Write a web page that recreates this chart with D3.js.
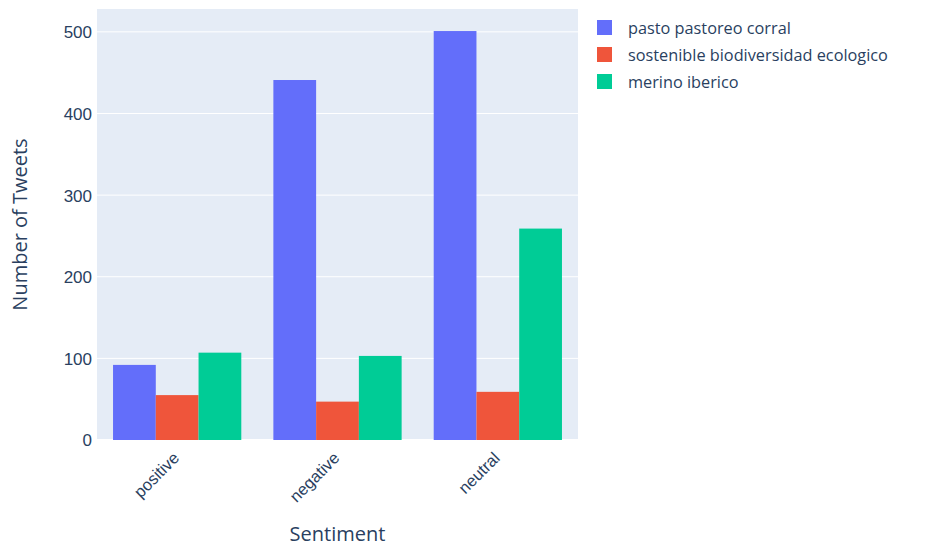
<!DOCTYPE html>
<html>
<head>
<meta charset="utf-8">
<script src="https://cdn.jsdelivr.net/npm/d3@7"></script>
<style>
  html, body { margin: 0; padding: 0; background: #fff; }
  svg { display: block; font-family: "Open Sans", sans-serif; }
</style>
</head>
<body>
<svg id="chart" width="928" height="548"></svg>
<script>
const categories = ["positive", "negative", "neutral"];
const seriesNames = ["pasto pastoreo corral", "sostenible biodiversidad ecologico", "merino iberico"];
const pastoValues = [92, 441, 501];
const sostenibleValues = [55, 47, 59];
const merinoValues = [107, 103, 259];
const yTicks = [0, 100, 200, 300, 400, 500];
const colors = ["#636efa", "#EF553B", "#00cc96"];

const seriesValues = [pastoValues, sostenibleValues, merinoValues];
const svg = d3.select("#chart");
const plot = { left: 97, top: 9, right: 578, bottom: 440 };
const textColor = "#2a3f5f";

const x0 = d3.scaleBand().domain(categories).range([plot.left, plot.right]).padding(0);
const inner = d3.scaleBand().domain(seriesNames).range([0, x0.bandwidth() * 0.8]).padding(0);
const y = d3.scaleLinear().domain([0, 528]).range([plot.bottom, plot.top]);

svg.append("rect").attr("x", plot.left).attr("y", plot.top)
  .attr("width", plot.right - plot.left).attr("height", plot.bottom - plot.top)
  .attr("fill", "#E5ECF6");

// grid
svg.append("g").selectAll("line").data(yTicks).join("line")
  .attr("x1", plot.left).attr("x2", plot.right)
  .attr("y1", d => y(d)).attr("y2", d => y(d))
  .attr("stroke", "#fff").attr("stroke-width", d => d === 0 ? 2 : 1);

// bars
seriesNames.forEach((name, si) => {
  svg.append("g").selectAll("rect").data(categories).join("rect")
    .attr("x", c => x0(c) + x0.bandwidth() * 0.1 + inner(name))
    .attr("width", inner.bandwidth())
    .attr("y", (c, i) => y(seriesValues[si][i]))
    .attr("height", (c, i) => y(0) - y(seriesValues[si][i]))
    .attr("fill", colors[si]);
});

// y axis
const yAxis = d3.axisLeft(y).tickValues(yTicks).tickSize(0).tickPadding(5);
const yg = svg.append("g").attr("transform", `translate(${plot.left},0)`).call(yAxis);
yg.select(".domain").remove();
yg.selectAll("text").attr("fill", textColor).style("font-size", "17px").attr("dy", "0.35em");

// x axis
const xAxis = d3.axisBottom(x0).tickSize(0).tickPadding(0);
const xg = svg.append("g").attr("transform", `translate(0,${plot.bottom})`).call(xAxis);
xg.select(".domain").remove();
xg.selectAll("text")
  .attr("fill", textColor).style("font-size", "16.5px")
  .attr("text-anchor", "end")
  .attr("dy", "0.35em")
  .attr("transform", "translate(-1,15) rotate(-45)");

// axis titles
svg.append("text").attr("x", (plot.left + plot.right) / 2).attr("y", 541)
  .attr("text-anchor", "middle").attr("fill", textColor).style("font-size", "20px").text("Sentiment");
svg.append("text").attr("transform", `translate(27,${(plot.top + plot.bottom) / 2}) rotate(-90)`)
  .attr("text-anchor", "middle").attr("fill", textColor).style("font-size", "20px").text("Number of Tweets");

// legend
const legend = svg.append("g");
seriesNames.forEach((name, i) => {
  const g = legend.append("g").attr("transform", `translate(597,${28 + i * 27})`);
  g.append("rect").attr("x", 0).attr("y", -8).attr("width", 15).attr("height", 15).attr("fill", colors[i]);
  g.append("text").attr("x", 31).attr("y", 0).attr("dy", "0.35em")
    .attr("fill", textColor).style("font-size", "16.3px").text(name);
});
</script>
</body>
</html>
